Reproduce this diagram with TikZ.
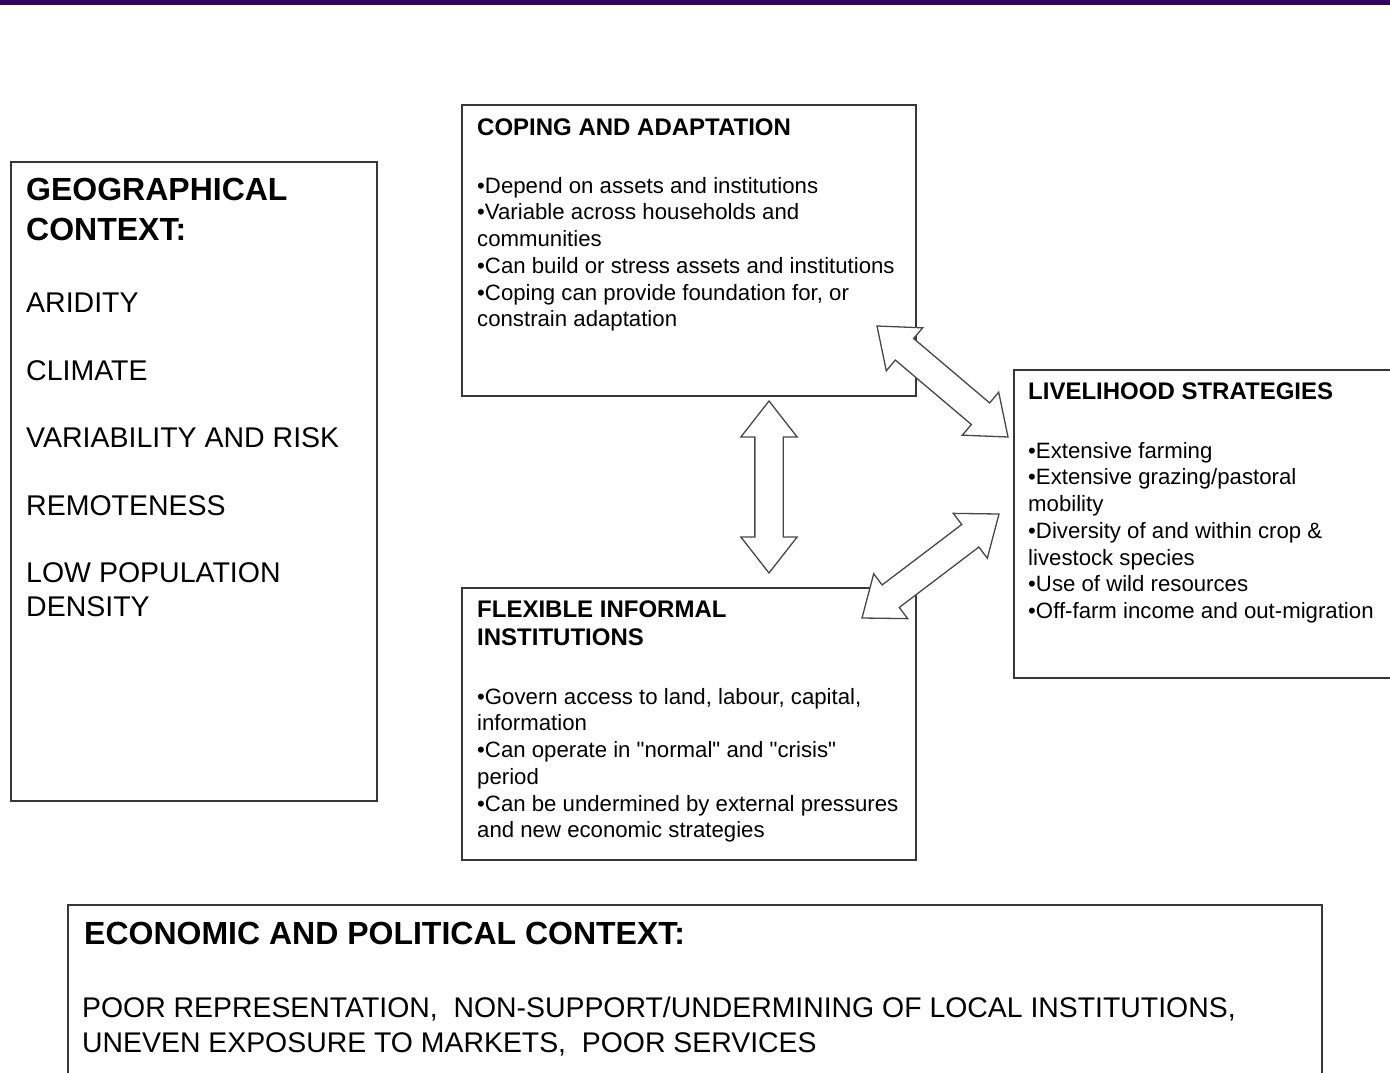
\documentclass[tikz,border=0pt]{standalone}
\usepackage{fontspec}
\setmainfont{Liberation Sans}
\usepackage{xcolor}
\usetikzlibrary{shapes.arrows,calc}
\definecolor{barpurple}{RGB}{51,0,102}
\definecolor{boxgray}{RGB}{55,55,55}

\tikzset{
	box/.style={draw=boxgray, line width=1.6pt, anchor=north west, inner sep=0pt},
	txt/.style={anchor=north west, inner sep=0pt, align=left},
	bighead/.style={font=\fontsize{32}{40}\selectfont\bfseries},
	bigtext/.style={font=\fontsize{28.5}{34}\selectfont},
	smallhead/.style={font=\fontsize{24}{28}\selectfont\bfseries},
	smalltext/.style={font=\fontsize{22.2}{26.7}\selectfont},
	dblarrow/.style={double arrow, draw=black!72, line width=1.3pt, fill=white,
		inner xsep=0pt, inner ysep=13.5pt, minimum width=55pt,
		double arrow head extend=14pt, double arrow tip angle=76}
}

\begin{document}
\begin{tikzpicture}[x=1pt, y=-1pt]
\useasboundingbox (0,0) rectangle (1390,1073);
\fill[barpurple] (0,0) rectangle (1390,5);

% boxes
\node[box, minimum width=366, minimum height=639] (geo) at (10,161) {};
\node[box, minimum width=454, minimum height=291] (coping) at (461,104) {};
\node[box, minimum width=454, minimum height=272] (flexible) at (461,587) {};
\node[box, minimum width=390, minimum height=308] (livelihood) at (1013,369) {};
\node[box, minimum width=1254, minimum height=190] (econ) at (67,904) {};

% texts
\node[txt, bighead] (geo-head) at (26,178) {GEOGRAPHICAL\\CONTEXT:};
\node[txt, bigtext] (geo-list) at (26,293) {ARIDITY\\[33.5pt]CLIMATE\\[33.5pt]VARIABILITY AND RISK\\[33.5pt]REMOTENESS\\[33.5pt]LOW POPULATION\\DENSITY};

\node[txt, smallhead] (coping-head) at (477,118.5) {COPING AND ADAPTATION};
\node[txt, smalltext] (coping-list) at (477,177) {\textbullet Depend on assets and institutions\\
\textbullet Variable across households and\\
communities\\
\textbullet Can build or stress assets and institutions\\
\textbullet Coping can provide foundation for, or\\
constrain adaptation};

\node[txt, smallhead] (flexible-head) at (477,600.5) {FLEXIBLE INFORMAL\\INSTITUTIONS};
\node[txt, smalltext] (flexible-list) at (477,688) {\textbullet Govern access to land, labour, capital,\\
information\\
\textbullet Can operate in \textquotedbl normal\textquotedbl\ and \textquotedbl crisis\textquotedbl\\
period\\
\textbullet Can be undermined by external pressures\\
and new economic strategies};

\node[txt, smallhead] (livelihood-head) at (1028,382.5) {LIVELIHOOD STRATEGIES};
\node[txt, smalltext] (livelihood-list) at (1028,442) {\textbullet Extensive farming\\
\textbullet Extensive grazing/pastoral\\
mobility\\
\textbullet Diversity of and within crop \&\\
livestock species\\
\textbullet Use of wild resources\\
\textbullet Off-farm income and out-migration};

\node[txt, bighead] (econ-head) at (84,922) {ECONOMIC AND POLITICAL CONTEXT:};
\node[txt, font=\fontsize{28.4}{35}\selectfont] (econ-list) at (82,997) {POOR REPRESENTATION,\ \ NON-SUPPORT/UNDERMINING OF LOCAL INSTITUTIONS,\\
UNEVEN EXPOSURE TO MARKETS,\ \ POOR SERVICES};

% arrow ends
\coordinate (coping-s) at (769,401);
\coordinate (flexible-n) at (769,573);
\coordinate (coping-e) at (877,326);
\coordinate (livelihood-w1) at (1008,437);
\coordinate (livelihood-w2) at (999,514);
\coordinate (flexible-e) at (862,618);

% double block arrows
\foreach \a/\b/\c in {coping-s/flexible-n/cf, coping-e/livelihood-w1/cl, flexible-e/livelihood-w2/fl}
	\path let \p1=($(\b)-(\a)$), \n1={atan2(\y1,\x1)}, \n2={veclen(\x1,\y1)} in
		node[dblarrow, rotate=\n1, minimum height=\n2] (\c) at ($(\a)!.5!(\b)$) {};
\end{tikzpicture}
\end{document}
